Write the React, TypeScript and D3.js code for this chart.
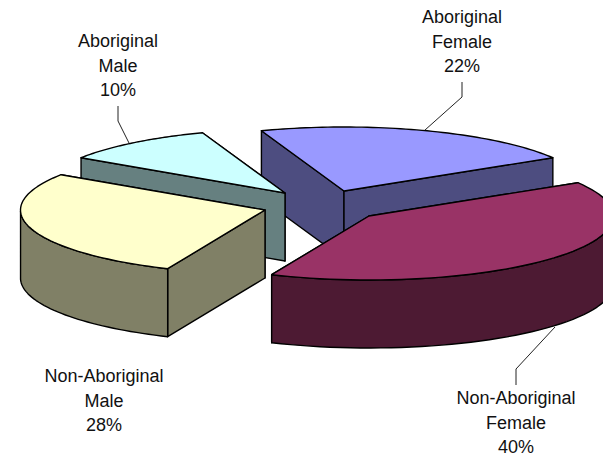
import React from "react";
import * as d3 from "d3";

const W = 603, H = 454;
const categories = ["Aboriginal Female", "Non-Aboriginal Female", "Non-Aboriginal Male", "Aboriginal Male"];
const values = [22, 40, 28, 10];
const topColors = ["#9999FF", "#993366", "#FFFFCC", "#CCFFFF"];
const wallColors = ["#4D4D80", "#4D1A33", "#808066", "#668080"];
const apexX = [344, 369, 265, 285];
const apexY = [191, 216, 210, 193];
const paintOrder = [0, 3, 1, 2];
const labelLines = [["Aboriginal", "Female", "22%"], ["Non-Aboriginal", "Female", "40%"], ["Non-Aboriginal", "Male", "28%"], ["Aboriginal", "Male", "10%"]];
const labelX = [462, 516, 104, 118];
const labelY = [23, 404, 382, 47];
const leaders = [
  [[462, 82], [462, 97], [425, 130]],
  [[516, 385], [516, 369], [555, 327]],
  [],
  [[118, 106], [118, 121], [129, 143]],
];

const RX = 244.5, RY = 64, DEPTH = 68;
const deg = Math.PI / 180;
const warp = (t: number) => t + 2 * deg * Math.abs(Math.cos(t));
const px = (t: number) => RX * Math.sin(warp(t));
const py = (t: number) => -RY * Math.cos(warp(t));
const line = d3.line();

export default function App() {
  const arcs = d3.pie<number>().sort(null).startAngle(-21.6 * deg).endAngle(338.4 * deg)(values);
  return (
    <svg width={W} height={H} style={{ position: "absolute", left: 0, top: 0, background: "#fff" }} fontFamily="Liberation Sans, Arial, sans-serif">
      {paintOrder.map((i) => {
        const a = arcs[i];
        const cx = apexX[i], cy = apexY[i];
        const ts = d3.range(0, 61).map((k) => a.startAngle + ((a.endAngle - a.startAngle) * k) / 60);
        const P = (t: number): [number, number] => [cx + px(t), cy + py(t)];
        const rim = ts.map(P);
        const top = line([[cx, cy], ...rim])! + "Z";
        const front = ts.filter((t) => Math.cos(warp(t)) <= 0).map(P);
        const down = (p: [number, number]): [number, number] => [p[0], p[1] + DEPTH];
        const wall = front.length > 1 ? line([...front, ...front.slice().reverse().map(down)])! + "Z" : null;
        const radial = (p: [number, number]) => line([[cx, cy], p, down(p), [cx, cy + DEPTH]])! + "Z";
        const walls = [rim[0], rim[60]].sort((u, v) => u[1] - v[1]);
        return (
          <g key={categories[i]} stroke="#000" strokeWidth={1.4} strokeLinejoin="round">
            {walls.map((p, j) => (
              <path key={j} d={radial(p)} fill={wallColors[i]} />
            ))}
            {wall && <path d={wall} fill={wallColors[i]} />}
            <path d={top} fill={topColors[i]} />
          </g>
        );
      })}
      {leaders.map((pts, i) =>
        pts.length ? <path key={i} d={line(pts as [number, number][])!} fill="none" stroke="#222" strokeWidth={1} /> : null
      )}
      {labelLines.map((ls, i) => (
        <text key={i} textAnchor="middle" fontSize={18} fill="#111">
          {ls.map((s, j) => (
            <tspan key={j} x={labelX[i]} y={labelY[i] + j * 24.5}>{s}</tspan>
          ))}
        </text>
      ))}
    </svg>
  );
}
